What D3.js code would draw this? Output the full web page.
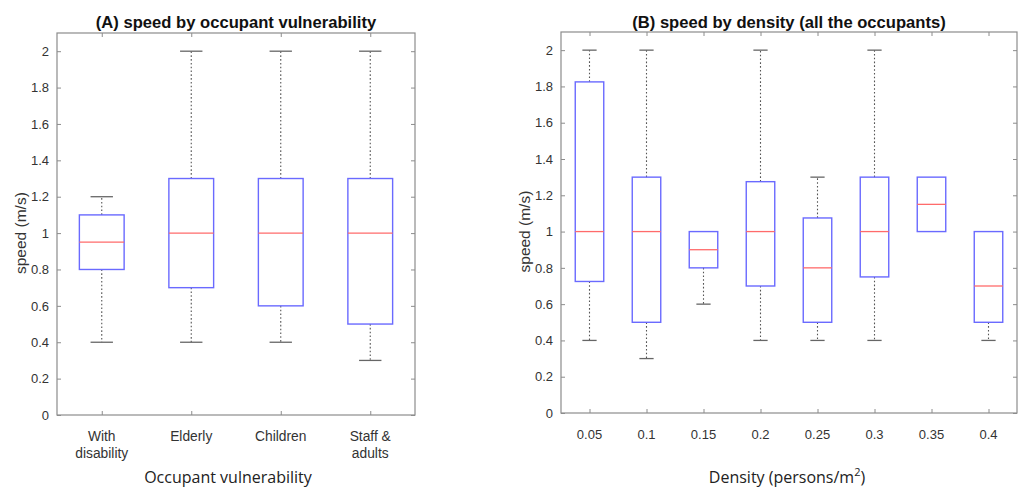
<!DOCTYPE html>
<html>
<head>
<meta charset="utf-8">
<script src="https://cdn.jsdelivr.net/npm/d3@7"></script>
<style>
  body { margin: 0; background: #fff; }
  svg { display: block; }
</style>
</head>
<body>
<script>
// Panel A data: speed by occupant vulnerability
const groupsA = ["With\ndisability", "Elderly", "Children", "Staff &\nadults"];
const lowA = [0.4, 0.4, 0.4, 0.3];
const q1A = [0.8, 0.7, 0.6, 0.5];
const medA = [0.95, 1.0, 1.0, 1.0];
const q3A = [1.1, 1.3, 1.3, 1.3];
const highA = [1.2, 2.0, 2.0, 2.0];

// Panel B data: speed by density
const groupsB = ["0.05", "0.1", "0.15", "0.2", "0.25", "0.3", "0.35", "0.4"];
const lowB = [0.4, 0.3, 0.6, 0.4, 0.4, 0.4, 1.0, 0.4];
const q1B = [0.725, 0.5, 0.8, 0.7, 0.5, 0.75, 1.0, 0.5];
const medB = [1.0, 1.0, 0.9, 1.0, 0.8, 1.0, 1.15, 0.7];
const q3B = [1.825, 1.3, 1.0, 1.275, 1.075, 1.3, 1.3, 1.0];
const highB = [2.0, 2.0, 1.0, 2.0, 1.3, 2.0, 1.3, 1.0];

const yTicks = [0, 0.2, 0.4, 0.6, 0.8, 1, 1.2, 1.4, 1.6, 1.8, 2];

const width = 1027;
const height = 488;

const svg = d3.select("body").append("svg")
  .attr("width", width)
  .attr("height", height)
  .attr("viewBox", [0, 0, width, height]);

const frameColor = "#8c8c8c";
const textColor = "#333";
const boxColor = "#6a6aff";
const medColor = "#ff6b6b";
const tickFont = "13px 'Liberation Sans', Arial, sans-serif";

function drawPanel(opts) {
  const { left, right, top, bottom, groups, low, q1, med, q3, high, title, ylabelX, xlabel, xlabelX, catFont } = opts;
  const n = groups.length;

  const x = d3.scaleLinear().domain([0.5, n + 0.5]).range([left, right]);
  const y = d3.scaleLinear().domain([0, 2.1]).range([bottom, top]);
  const unit = x(2) - x(1);

  const g = svg.append("g");

  // frame
  g.append("rect")
    .attr("x", left).attr("y", top)
    .attr("width", right - left).attr("height", bottom - top)
    .attr("fill", "none")
    .attr("stroke", frameColor)
    .attr("stroke-width", 1.2);

  // left axis ticks and labels
  const yAxis = d3.axisLeft(y).tickValues(yTicks).tickSize(-4).tickPadding(8)
    .tickFormat(d3.format("~g"));
  const ya = g.append("g").attr("transform", `translate(${left},0)`).call(yAxis);
  ya.select(".domain").remove();
  ya.selectAll("line").attr("stroke", frameColor);
  ya.selectAll("text")
    .attr("fill", textColor)
    .style("font", tickFont);

  // right axis ticks (mirror)
  const yr = g.append("g").attr("transform", `translate(${right},0)`)
    .call(d3.axisRight(y).tickValues(yTicks).tickSize(-4).tickFormat(""));
  yr.select(".domain").remove();
  yr.selectAll("line").attr("stroke", frameColor);

  // bottom and top ticks
  const idx = d3.range(1, n + 1);
  const xb = g.append("g").attr("transform", `translate(0,${bottom})`)
    .call(d3.axisBottom(x).tickValues(idx).tickSize(-4).tickFormat(""));
  xb.select(".domain").remove();
  xb.selectAll("line").attr("stroke", frameColor);
  const xt = g.append("g").attr("transform", `translate(0,${top})`)
    .call(d3.axisTop(x).tickValues(idx).tickSize(-4).tickFormat(""));
  xt.select(".domain").remove();
  xt.selectAll("line").attr("stroke", frameColor);

  // x tick labels (multi-line)
  const lab = g.append("g")
    .selectAll("text")
    .data(groups)
    .join("text")
    .attr("x", (d, i) => x(i + 1))
    .attr("y", bottom + 26)
    .attr("text-anchor", "middle")
    .attr("fill", textColor)
    .style("font", catFont);
  lab.each(function (d) {
    const lines = d.split("\n");
    d3.select(this).selectAll("tspan")
      .data(lines)
      .join("tspan")
      .attr("x", d3.select(this).attr("x"))
      .attr("dy", (l, j) => (j === 0 ? 0 : 17))
      .text((l) => l);
  });

  const data = idx.map((k, i) => ({ k, lo: low[i], q1: q1[i], med: med[i], q3: q3[i], hi: high[i] }));
  const bw = unit * 0.5;
  const cw = unit * 0.25;

  const box = g.append("g").selectAll("g").data(data).join("g");

  // whiskers (dotted)
  box.filter((d) => d.hi > d.q3).append("line")
    .attr("x1", (d) => x(d.k)).attr("x2", (d) => x(d.k))
    .attr("y1", (d) => y(d.q3)).attr("y2", (d) => y(d.hi))
    .attr("stroke", "#555").attr("stroke-width", 1.1)
    .attr("stroke-dasharray", "1.6,2.2");
  box.filter((d) => d.lo < d.q1).append("line")
    .attr("x1", (d) => x(d.k)).attr("x2", (d) => x(d.k))
    .attr("y1", (d) => y(d.q1)).attr("y2", (d) => y(d.lo))
    .attr("stroke", "#555").attr("stroke-width", 1.1)
    .attr("stroke-dasharray", "1.6,2.2");

  // caps
  box.filter((d) => d.hi > d.q3).append("line")
    .attr("x1", (d) => x(d.k) - cw / 2).attr("x2", (d) => x(d.k) + cw / 2)
    .attr("y1", (d) => y(d.hi)).attr("y2", (d) => y(d.hi))
    .attr("stroke", "#666").attr("stroke-width", 1.3);
  box.filter((d) => d.lo < d.q1).append("line")
    .attr("x1", (d) => x(d.k) - cw / 2).attr("x2", (d) => x(d.k) + cw / 2)
    .attr("y1", (d) => y(d.lo)).attr("y2", (d) => y(d.lo))
    .attr("stroke", "#666").attr("stroke-width", 1.3);

  // box
  box.append("rect")
    .attr("x", (d) => x(d.k) - bw / 2)
    .attr("width", bw)
    .attr("y", (d) => y(d.q3))
    .attr("height", (d) => y(d.q1) - y(d.q3))
    .attr("fill", "none")
    .attr("stroke", boxColor)
    .attr("stroke-width", 1.4);

  // median
  box.append("line")
    .attr("x1", (d) => x(d.k) - bw / 2).attr("x2", (d) => x(d.k) + bw / 2)
    .attr("y1", (d) => y(d.med)).attr("y2", (d) => y(d.med))
    .attr("stroke", medColor).attr("stroke-width", 1.3);

  // title
  g.append("text")
    .attr("x", (left + right) / 2)
    .attr("y", 28)
    .attr("text-anchor", "middle")
    .attr("fill", "#111")
    .style("font", "bold 16.6px 'Liberation Sans', Arial, sans-serif")
    .text(title);

  // y label
  g.append("text")
    .attr("transform", `translate(${ylabelX},${y(1)}) rotate(-90)`)
    .attr("text-anchor", "middle")
    .attr("fill", textColor)
    .style("font", "15.5px 'Liberation Sans', Arial, sans-serif")
    .text("speed (m/s)");

  // x label
  const xl = g.append("text")
    .attr("x", xlabelX)
    .attr("y", 483)
    .attr("text-anchor", "middle")
    .attr("fill", "#222")
    .style("font", "16px 'Open Sans', 'Noto Sans', sans-serif");
  xlabel(xl);
}

drawPanel({
  left: 57, right: 415, top: 33, bottom: 415,
  groups: groupsA, low: lowA, q1: q1A, med: medA, q3: q3A, high: highA,
  title: "(A) speed by occupant vulnerability",
  ylabelX: 26,
  xlabelX: 228,
  catFont: "13.8px 'Liberation Sans', Arial, sans-serif",
  xlabel: (t) => t.text("Occupant vulnerability")
});

drawPanel({
  left: 561, right: 1017, top: 32, bottom: 413,
  groups: groupsB, low: lowB, q1: q1B, med: medB, q3: q3B, high: highB,
  title: "(B) speed by density (all the occupants)",
  ylabelX: 530,
  xlabelX: 787,
  catFont: tickFont,
  xlabel: (t) => {
    t.append("tspan").text("Density (persons/m");
    t.append("tspan").attr("baseline-shift", "super").style("font-size", "11px").text("2");
    t.append("tspan").text(")");
  }
});
</script>
</body>
</html>
